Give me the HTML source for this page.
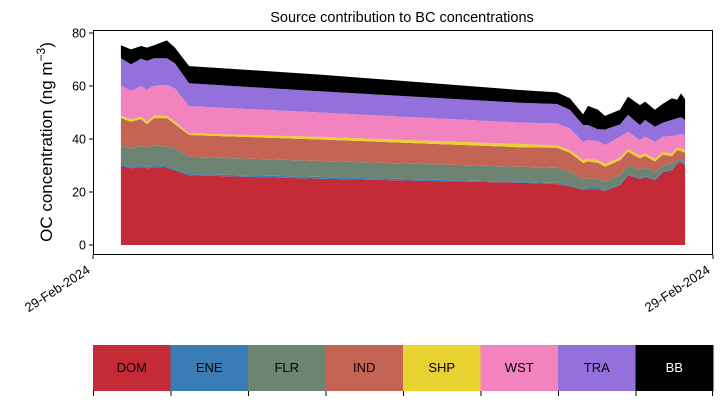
<!DOCTYPE html>
<html><head><meta charset="utf-8"><style>
body{margin:0;background:#fff;font-family:"Liberation Sans",sans-serif}
svg text{font-family:"Liberation Sans","DejaVu Sans",sans-serif}
</style></head><body>
<svg id="chart" width="722" height="402" xmlns="http://www.w3.org/2000/svg">
<text x="402" y="22" font-size="14.5" text-anchor="middle">Source contribution to BC concentrations</text>
<text transform="translate(52,142) rotate(-90)" font-size="17" text-anchor="middle">OC concentration (ng m<tspan dy="-7" font-size="12">−3</tspan><tspan dy="7">)</tspan></text>
<g id="areas"></g>
<rect x="93.5" y="30.5" width="619" height="224" fill="none" stroke="#000" stroke-width="1"/>
<g id="yticks"></g>
<g id="xticks"></g>
<g id="colorbar"></g>
</svg>
<script>
const hours=[1.08,1.47,1.86,2.09,2.36,2.86,3.17,3.72,8.79,16.53,17.96,18.46,18.97,19.16,19.55,19.82,20.40,20.71,21.17,21.37,21.75,22.06,22.41,22.61,22.76,22.92];
const seriesNames=["DOM","ENE","FLR","IND","SHP","WST","TRA","BB"];
const DOM=[29.8,29.0,29.4,28.9,29.4,29.2,28.1,26.3,25,23.5,23.0,22.1,20.8,21.1,21.1,20.4,22.5,26.3,25,25.6,24.4,27.5,28.1,30.7,31.3,30];
const ENE=[0.7,0.5,0.6,0.5,0.6,0.6,0.5,0.5,0.7,0.3,0.4,0.4,0.4,0.4,0.4,0.4,0.4,0.4,0.4,0.4,0.4,0.4,0.4,0.4,0.4,0.4];
const FLR=[7.0,6.9,7.5,7.5,7.5,7.4,7.9,6.5,6.0,5.7,5.7,5.2,3.6,3.7,3.2,3.2,3.4,3.4,3.0,3.2,2.9,1.8,2.2,0.9,0.5,0.8];
const IND=[10.4,10.1,10.0,8.7,10.4,10.7,9.1,8.2,8.1,7.4,7.6,7.1,6.2,6.4,6.3,5.6,5.7,5.1,4.3,4.4,3.8,4.4,2.8,3.8,3.2,3.6];
const SHP=[0.9,0.9,0.9,0.9,0.9,0.9,0.9,0.6,1.0,1.2,0.9,1.0,1.0,1.0,1.0,1.0,1.0,1.0,1.0,1.0,1.0,1.0,1.0,1.0,1.0,1.0];
const WST=[11.3,10.7,11.6,12.1,11.3,11.6,12.6,10.3,9.2,8.1,8.3,8.2,7,7,7.2,7.1,7.9,6.6,5.9,6.3,6.5,5.8,6.6,4.7,5.5,5.7];
const TRA=[10.4,10.1,10.3,10.9,10.4,10.1,9.5,8.6,8,7.5,7.3,7,6.3,5.7,4.5,5.9,4.6,6.3,5.7,6.3,5.6,5.3,6.1,6.3,6.3,5.7];
const BB=[4.9,5.6,4.8,5.0,4.9,6.7,5.9,6.5,6.3,4.8,4.4,4.4,4.0,7.2,7.3,5.1,5.5,6.9,7.5,6.9,6.4,7.1,8.2,7,9,7.8];
const yTicks=[0,20,40,60,80];
const xTickHours=[0,24];
const xTickLabels=["29-Feb-2024","29-Feb-2024"];
const colors=["#c52a37","#3a7cb4","#6e8472","#c46455","#e8d232","#f383be","#9370db","#000000"];
const NS="http://www.w3.org/2000/svg";
const X=h=>93+h/24*620;
const Y=v=>245-v*2.65;
const all=[DOM,ENE,FLR,IND,SHP,WST,TRA,BB];
const g=document.getElementById('areas');
let base=hours.map(()=>0);
all.forEach((s,k)=>{
  const top=base.map((b,i)=>b+s[i]);
  let d="M"+hours.map((h,i)=>X(h).toFixed(1)+","+Y(top[i]).toFixed(1)).join("L");
  for(let i=hours.length-1;i>=0;i--) d+="L"+X(hours[i]).toFixed(1)+","+Y(base[i]).toFixed(1);
  d+="Z";
  const p=document.createElementNS(NS,'path');
  p.setAttribute('d',d);p.setAttribute('fill',colors[k]);
  
  
  g.appendChild(p);
  base=top;
});
const yt=document.getElementById('yticks');
yTicks.forEach(v=>{
  const l=document.createElementNS(NS,'line');
  l.setAttribute('x1',89);l.setAttribute('x2',93);l.setAttribute('y1',Y(v));l.setAttribute('y2',Y(v));l.setAttribute('stroke','#000');
  
  
  yt.appendChild(l);
  const t=document.createElementNS(NS,'text');
  t.setAttribute('x',86);t.setAttribute('y',Y(v)+4.5);t.setAttribute('font-size','12.5');t.setAttribute('text-anchor','end');
  t.textContent=v;
  
  
  yt.appendChild(t);
});
const xt=document.getElementById('xticks');
xTickHours.forEach((h,i)=>{
  const x=X(h);
  const l=document.createElementNS(NS,'line');
  l.setAttribute('x1',x);l.setAttribute('x2',x);l.setAttribute('y1',255);l.setAttribute('y2',259);l.setAttribute('stroke','#000');
  
  
  xt.appendChild(l);
  const t=document.createElementNS(NS,'text');
  t.setAttribute('transform','translate('+(x-2)+',272) rotate(-33)');
  t.setAttribute('font-size','13');t.setAttribute('text-anchor','end');
  t.textContent=xTickLabels[i];
  
  
  xt.appendChild(t);
});
const cb=document.getElementById('colorbar');
const w=620/seriesNames.length;
seriesNames.forEach((n,k)=>{
  const r=document.createElementNS(NS,'rect');
  r.setAttribute('x',93+k*w);r.setAttribute('y',345);r.setAttribute('width',w+0.5);r.setAttribute('height',46);r.setAttribute('fill',colors[k]);
  
  
  cb.appendChild(r);
  const t=document.createElementNS(NS,'text');
  t.setAttribute('x',93+k*w+w/2);t.setAttribute('y',372);t.setAttribute('font-size','13');t.setAttribute('text-anchor','middle');
  t.setAttribute('fill',n==="BB"?"#fff":"#000");
  t.textContent=n;
  
  
  cb.appendChild(t);
});
for(let k=0;k<=seriesNames.length;k++){
  const l=document.createElementNS(NS,'line');
  const x=93.5+k*w-(k===seriesNames.length?1:0);
  l.setAttribute('x1',x);l.setAttribute('x2',x);l.setAttribute('y1',391);l.setAttribute('y2',396);l.setAttribute('stroke','#000');
  
  
  cb.appendChild(l);
}
</script>
</body></html>
